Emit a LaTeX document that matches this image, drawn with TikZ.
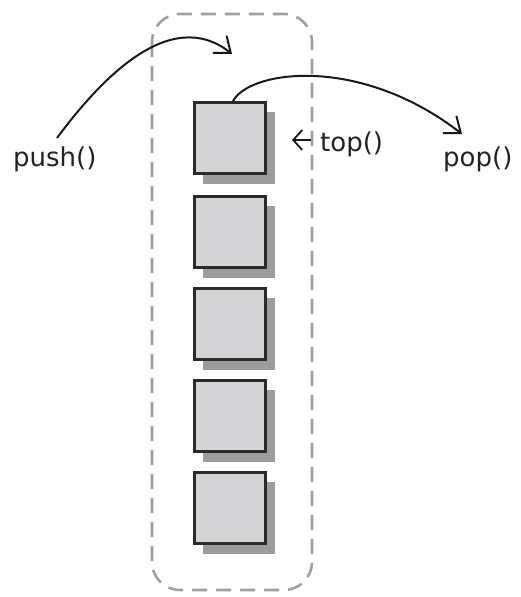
\documentclass[tikz,border=0pt]{standalone}
\usepackage{fontspec}
\setmainfont{DejaVu Sans}
\usetikzlibrary{arrows.meta}
\definecolor{boxfill}{HTML}{D4D4D6}
\definecolor{boxedge}{HTML}{2A2A2A}
\definecolor{shadowc}{HTML}{9C9C9C}
\definecolor{dashc}{HTML}{A0A0A0}
\definecolor{txt}{HTML}{222222}
\begin{document}
\begin{tikzpicture}[x=1pt,y=-1pt,
  stackbox/.style={draw=boxedge,line width=3pt,fill=boxfill,minimum width=71pt,minimum height=71pt,inner sep=0pt,anchor=north west},
  shadowbox/.style={fill=shadowc,minimum width=72pt,minimum height=72pt,inner sep=0pt,anchor=north west},
  lbl/.style={text=txt,font=\fontsize{26}{30}\selectfont,inner sep=0pt},
  conn/.style={draw=black!90,line width=2pt,-{Straight Barb[length=14pt,width=22pt,line width=2pt]}}
]
\useasboundingbox (0,0) rectangle (521,597);
\fill[white] (0,0) rectangle (521,597);
% container
\draw[dashc,line width=2.6pt,dash pattern=on 15pt off 9pt,rounded corners=28pt] (152,14) rectangle (312,590);
% boxes with shadows
\foreach \i/\y in {1/101,2/195,3/287,4/379,5/471}{
  \node[shadowbox] (s\i) at (203,\y+11) {};
  \node[stackbox] (b\i) at (193,\y) {};
}
% labels
\node[lbl,anchor=base west] (push) at (13,166) {push()};
\node[lbl,anchor=base west] (top) at (320,151) {top()};
\node[lbl,anchor=base west] (pop) at (443,166) {pop()};
\coordinate (pushout) at (57,138);
\coordinate (pushin) at (232,54);
\coordinate (popin) at (462,134);
\coordinate (topbar) at (311,140);
\coordinate (toptip) at (292,140);
% arrows
\draw[conn] (pushout) .. controls (100,80) and (170,5) .. (pushin);
\draw[conn] ([xshift=3pt]b1.north) .. controls (250,70) and (360,55) .. (popin);
\draw[black!90,line width=1.8pt,-{Straight Barb[length=9pt,width=20pt,line width=1.8pt]}] (topbar) -- (toptip);
\end{tikzpicture}
\end{document}
